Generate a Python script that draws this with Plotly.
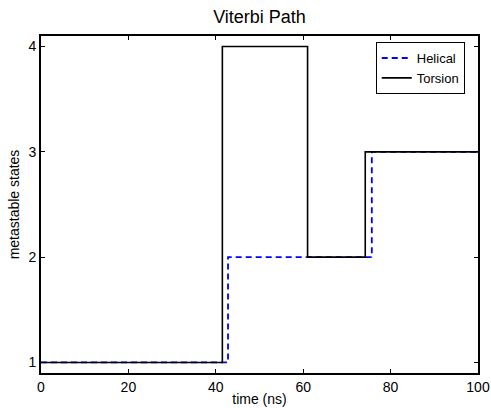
import plotly.graph_objects as go

# Viterbi path data (step changes)
helical_t = [0, 42.8, 75.7, 100]
helical_s = [1, 2, 3, 3]
torsion_t = [0, 41.5, 61.0, 74.2, 100]
torsion_s = [1, 4, 2, 3, 3]

x_ticks = [0, 20, 40, 60, 80, 100]
y_ticks = [1, 2, 3, 4]

FONT = "Liberation Sans, Arial, sans-serif"

fig = go.Figure()
fig.add_trace(go.Scatter(x=helical_t, y=helical_s, mode="lines", name="Helical",
                         line=dict(color="#0000ff", width=1.8, dash="6px,4px", shape="hv")))
fig.add_trace(go.Scatter(x=torsion_t, y=torsion_s, mode="lines", name="Torsion",
                         line=dict(color="black", width=1.6, shape="hv")))

axis_common = dict(showline=True, linecolor="black", linewidth=2, mirror="ticks",
                   ticks="inside", ticklen=4, tickwidth=1, tickcolor="black",
                   showgrid=False, zeroline=False, automargin=False,
                   tickfont=dict(family=FONT, size=14, color="black"))

fig.update_layout(
    template="none",
    width=491, height=408,
    margin=dict(l=41, r=13, t=36, b=35, pad=0),
    paper_bgcolor="white", plot_bgcolor="white",
    title=dict(text="Viterbi Path", x=0.5, xref="paper", xanchor="center",
               y=1 - 17 / 408, yref="container", yanchor="middle",
               font=dict(family=FONT, size=18, color="black")),
    xaxis=dict(range=[0, 100], tickvals=x_ticks,
               title=dict(text="time (ns)", font=dict(family=FONT, size=14, color="black"), standoff=0),
               **axis_common),
    yaxis=dict(range=[0.9, 4.1], tickvals=y_ticks,
               title=dict(text="metastable states", font=dict(family=FONT, size=14, color="black"), standoff=6),
               **axis_common),
    legend=dict(x=0.766, y=0.982, xanchor="left", yanchor="top",
                bordercolor="black", borderwidth=1, bgcolor="white",
                font=dict(family=FONT, size=13, color="black"),
                tracegroupgap=0, itemwidth=30),
    showlegend=True,
)

fig.write_html("out.html")
